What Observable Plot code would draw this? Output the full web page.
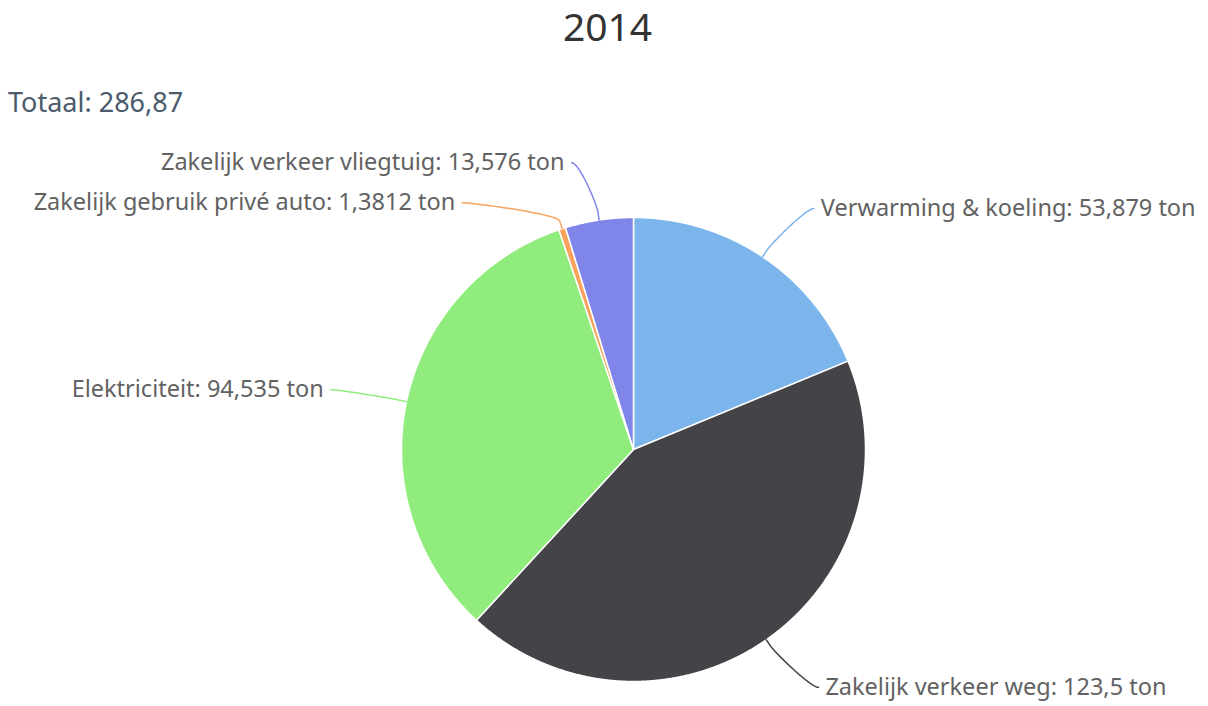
<!DOCTYPE html>
<html>
<head>
<meta charset="utf-8">
<script src="https://cdn.jsdelivr.net/npm/d3@7"></script>
<script src="https://cdn.jsdelivr.net/npm/@observablehq/plot@0.6"></script>
<style>
  html, body { margin: 0; padding: 0; background: #fff; }
  #wrap { width: 1208px; height: 706px; position: relative; overflow: hidden; }
  #head { position: relative; width: 1208px; height: 130px; }
  #title { position: absolute; left: 0; top: 6px; width: 1215px; text-align: center;
           font-family: "Noto Sans", sans-serif; font-size: 39px; line-height: 39px; color: #333333; }
  #subtitle { position: absolute; left: 8px; top: 88px;
           font-family: "Noto Sans", sans-serif; font-size: 27px; line-height: 27px; color: #4a5b6c; }
  #chart svg { display: block; }
</style>
</head>
<body>
<div id="wrap">
  <div id="head"><div id="title"></div><div id="subtitle"></div></div>
  <div id="chart"></div>
</div>
<script>
// ---- data ----
const title = "2014";
const totalLabel = "Totaal";
const unit = "ton";
const categories = [
  "Verwarming & koeling",
  "Zakelijk verkeer weg",
  "Elektriciteit",
  "Zakelijk gebruik privé auto",
  "Zakelijk verkeer vliegtuig"
];
const values = [53.879, 123.5, 94.535, 1.3812, 13.576];
const colors = ["#7cb5ec", "#434348", "#90ed7d", "#f7a35c", "#8085e9"];

// ---- helpers ----
const nl = v => String(v).replace(".", ",");
const total = d3.sum(values);
document.getElementById("title").textContent = title;
document.getElementById("subtitle").textContent = `${totalLabel}: ${nl(total.toFixed(2))}`;

// ---- layout (pixels) ----
const W = 1208, H = 576, CX = 633, CY = 319, R = 232;
const LR = 290, PAD = 26, SPACING = 40, OFF = 8;
const toX = px => (px - CX) / R;
const toY = py => (CY - py) / R;

const arcs = d3.pie().sort(null)(values);
const slices = [];
arcs.forEach((a, i) => {
  slices.push({cat: categories[i], x: 0, y: 0});
  const n = Math.max(2, Math.ceil((a.endAngle - a.startAngle) / 0.004));
  for (let k = 0; k <= n; k++) {
    const t = a.startAngle + (a.endAngle - a.startAngle) * k / n;
    slices.push({cat: categories[i], x: Math.sin(t), y: Math.cos(t)});
  }
});

// label placement (Highcharts-like)
const labels = arcs.map((a, i) => {
  const mid = (a.startAngle + a.endAngle) / 2;
  return {i, cat: categories[i], value: values[i], mid,
          left: mid > Math.PI, ny: CY - Math.cos(mid) * LR};
});
for (const side of [true, false]) {
  const group = labels.filter(d => d.left === side).sort((a, b) => b.value - a.value);
  const placed = [];
  for (const d of group) {
    let y = d.ny;
    for (const p of placed) {
      if (Math.abs(y - p.py) < SPACING) y = y >= p.py ? p.py + SPACING : p.py - SPACING;
    }
    d.py = y;
    placed.push(d);
  }
}
labels.forEach(d => {
  const dy = d.py - CY;
  const dx = Math.sqrt(Math.max(0, LR * LR - dy * dy)) + PAD;
  d.px = d.left ? CX - dx : CX + dx;
  d.text = `${d.cat}: ${nl(d.value)} ${unit}`;
});

// connectors: cubic from label to just outside slice, then line to the slice
const connectors = [];
labels.forEach(d => {
  const s = d.left ? -1 : 1;
  const p0 = [d.px - s * 7, d.py];
  const p1 = [p0[0] - s * 8, d.py];
  const ux = Math.sin(d.mid), uy = -Math.cos(d.mid);
  const p2 = [CX + ux * (R + 2 * OFF), CY + uy * (R + 2 * OFF)];
  const p3 = [CX + ux * (R + OFF), CY + uy * (R + OFF)];
  const p4 = [CX + ux * R, CY + uy * R];
  const N = 30;
  for (let k = 0; k <= N; k++) {
    const t = k / N, m = 1 - t;
    const x = m*m*m*p0[0] + 3*m*m*t*p1[0] + 3*m*t*t*p2[0] + t*t*t*p3[0];
    const y = m*m*m*p0[1] + 3*m*m*t*p1[1] + 3*m*t*t*p2[1] + t*t*t*p3[1];
    connectors.push({cat: d.cat, x: toX(x), y: toY(y)});
  }
  connectors.push({cat: d.cat, x: toX(p4[0]), y: toY(p4[1])});
});
const labelRows = labels.map(d => ({cat: d.cat, text: d.text, left: d.left, x: toX(d.px), y: toY(d.py)}));

const chart = Plot.plot({
  width: W, height: H, margin: 0,
  x: {domain: [toX(0), toX(W)], axis: null},
  y: {domain: [toY(H), toY(0)], axis: null},
  color: {domain: categories, range: colors},
  style: {fontFamily: "'Noto Sans', sans-serif", background: "#fff"},
  marks: [
    Plot.line(slices, {x: "x", y: "y", z: "cat", fill: "cat", stroke: "#ffffff",
                       strokeWidth: 1.5, strokeLinejoin: "round", curve: "linear-closed"}),
    Plot.line(connectors, {x: "x", y: "y", z: "cat", stroke: "cat", strokeWidth: 1.5}),
    Plot.text(labelRows.filter(d => !d.left), {x: "x", y: "y", text: "text", textAnchor: "start",
              lineAnchor: "middle", fontSize: 23.5, fill: "#626262"}),
    Plot.text(labelRows.filter(d => d.left), {x: "x", y: "y", text: "text", textAnchor: "end",
              lineAnchor: "middle", fontSize: 23.5, fill: "#626262"})
  ]
});
document.getElementById("chart").appendChild(chart);
</script>
</body>
</html>
